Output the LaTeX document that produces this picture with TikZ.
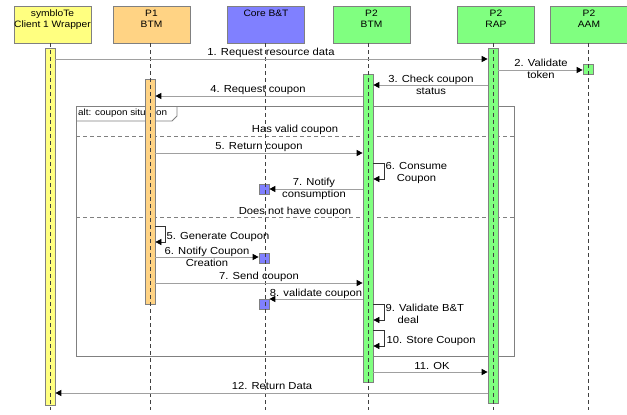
\documentclass[tikz,border=0pt]{standalone}
\usepackage{fontspec}
\setmainfont[FakeStretch=1.1]{Liberation Sans}
\usetikzlibrary{arrows.meta}

\definecolor{frameGray}{HTML}{808080}
\definecolor{lineGray}{HTML}{A0A0A0}
\definecolor{cYellow}{HTML}{FFFF80}
\definecolor{cOrange}{HTML}{FFD384}
\definecolor{cBlue}{HTML}{8080FF}
\definecolor{cGreen}{HTML}{80FF80}

\tikzset{
  head/.style={draw=frameGray, line width=0.8pt, minimum width=77pt, minimum height=37pt,
    inner sep=0pt},
  headtxt/.style={anchor=north, align=center, inner sep=0pt,
    font=\fontsize{9.3}{11.5}\selectfont},
  life/.style={draw=black!75, line width=0.6pt, dash pattern=on 4pt off 3pt},
  bar/.style={draw=frameGray, line width=0.7pt, minimum width=10pt, inner sep=0pt, anchor=north},
  msg/.style={draw=lineGray, line width=1pt,
    -{Triangle[length=6pt,width=6pt,color=black]}},
  selfmsg/.style={draw=black!80, line width=0.6pt,
    -{Triangle[length=6pt,width=6pt,color=black]}},
  lbl/.style={inner sep=0.5pt, align=center, font=\fontsize{10.2}{12}\selectfont},
  frame/.style={draw=frameGray, line width=0.8pt},
  sep/.style={draw=frameGray, line width=0.7pt, dash pattern=on 4pt off 3pt},
}

\begin{document}
\begin{tikzpicture}[x=1pt,y=-1pt]
\useasboundingbox (0,0) rectangle (627,415);
\fill[white] (0,0) rectangle (627,415);

% participant heads
\node[head, fill=cYellow] (hSym) at (52.5,24.5) {};
\node[head, fill=cOrange] (hP1)  at (151.5,24.5) {};
\node[head, fill=cBlue]   (hCore) at (266,24.5) {};
\node[head, fill=cGreen]  (hBtm) at (371.5,24.5) {};
\node[head, fill=cGreen]  (hRap) at (496,24.5) {};
\node[head, fill=cGreen]  (hAam) at (589,24.5) {};
\node[headtxt] at (52.5,9.5)  {symbloTe\\Client 1 Wrapper};
\node[headtxt] at (151.5,9.5) {P1\\BTM};
\node[headtxt] at (266,9.5)   {Core B\&T};
\node[headtxt] at (371.5,9.5) {P2\\BTM};
\node[headtxt] at (496,9.5)   {P2\\RAP};
\node[headtxt] at (589,9.5)   {P2\\AAM};

% lifeline ends
\coordinate (lSym)  at (50,43);   \coordinate (eSym)  at (50,410);
\coordinate (lP1)   at (150,43);  \coordinate (eP1)   at (150,410);
\coordinate (lCore) at (265,43);  \coordinate (eCore) at (265,410);
\coordinate (lBtm)  at (368,43);  \coordinate (eBtm)  at (368,410);
\coordinate (lRap)  at (493,43);  \coordinate (eRap)  at (493,410);
\coordinate (lAam)  at (588,43);  \coordinate (eAam)  at (588,410);

% combined fragment
\draw[frame] (76,106) rectangle (514,356);
\draw[frame] (76,121) -- (172,121) -- (177,116) -- (177,106);
\node[anchor=west, inner sep=0pt, font=\fontsize{9}{10}\selectfont] (altlbl) at (78,113.5) {alt: coupon situation};
\draw[sep] (76,136) -- (514,136);
\draw[sep] (76,217) -- (514,217);
\node[lbl, anchor=base] at (295,132) {Has valid coupon};
\node[lbl, anchor=base] at (295,214) {Does not have coupon};

% activation bars
\node[bar, fill=cYellow, minimum height=357pt] (aSym) at (50,48) {};
\node[bar, fill=cOrange, minimum height=225pt] (aP1)  at (150,79) {};
\node[bar, fill=cGreen,  minimum height=308pt] (aBtm) at (368,74) {};
\node[bar, fill=cGreen,  minimum height=355pt] (aRap) at (493,48) {};
\node[bar, fill=cGreen,  minimum height=10pt]  (aAam) at (588,64) {};
\node[bar, fill=cBlue,   minimum height=10pt]  (aCore1) at (264,184) {};
\node[bar, fill=cBlue,   minimum height=10pt]  (aCore2) at (264,253) {};
\node[bar, fill=cBlue,   minimum height=10pt]  (aCore3) at (264,299) {};

% lifelines
\foreach \a/\b in {lSym/eSym,lP1/eP1,lCore/eCore,lBtm/eBtm,lRap/eRap,lAam/eAam}
  \draw[life] (\a) -- (\b);

% messages
\draw[msg] (aSym.east |- 0,59) -- (aRap.west |- 0,59);
\node[lbl, anchor=base] at (271,55) {1. Request resource data};

\draw[msg] (aRap.east |- 0,70) -- (aAam.west |- 0,70);
\node[lbl] at (541,69) {2. Validate\\token};

\draw[msg] (aRap.west |- 0,85) -- (aBtm.east |- 0,85);
\node[lbl] at (431,85) {3. Check coupon\\status};

\draw[msg] (aBtm.west |- 0,96) -- (aP1.east |- 0,96);
\node[lbl, anchor=base] at (258,92) {4. Request coupon};

% alternative: has valid coupon
\draw[msg] (aP1.east |- 0,153) -- (aBtm.west |- 0,153);
\node[lbl, anchor=base] at (259,149.5) {5. Return coupon};

\draw[selfmsg] (aBtm.east |- 0,163) -- (384,163) -- (384,179) -- (aBtm.east |- 0,179);
\node[lbl, anchor=west] at (385,173) {6. Consume\\Coupon};

\draw[msg] (aBtm.west |- 0,189) -- (aCore1.east |- 0,189);
\node[lbl] at (314,189) {7. Notify\\consumption};

% alternative: does not have coupon
\draw[selfmsg] (aP1.east |- 0,226) -- (165,226) -- (165,242) -- (aP1.east |- 0,242);
\node[lbl, anchor=base west] at (166,239) {5. Generate Coupon};

\draw[msg] (aP1.east |- 0,257) -- (aCore2.west |- 0,257);
\node[lbl] at (207,257) {6. Notify Coupon\\Creation};

\draw[msg] (aP1.east |- 0,283) -- (aBtm.west |- 0,283);
\node[lbl, anchor=base] at (259,279.5) {7. Send coupon};

\draw[msg] (aBtm.west |- 0,299) -- (aCore3.east |- 0,299);
\node[lbl, anchor=base] at (316,296) {8. validate coupon};

\draw[selfmsg] (aBtm.east |- 0,304) -- (384,304) -- (384,320) -- (aBtm.east |- 0,320);
\node[lbl, anchor=west, align=left] at (385,314) {9. Validate B\&T\\\hspace*{12pt}deal};

\draw[selfmsg] (aBtm.east |- 0,330) -- (384,330) -- (384,346) -- (aBtm.east |- 0,346);
\node[lbl, anchor=base west] at (386,343.5) {10. Store Coupon};

% after the fragment
\draw[msg] (aBtm.east |- 0,372) -- (aRap.west |- 0,372);
\node[lbl, anchor=base] at (432,369) {11. OK};

\draw[msg] (aRap.west |- 0,393) -- (aSym.east |- 0,393);
\node[lbl, anchor=base] at (272,389.5) {12. Return Data};
\end{tikzpicture}
\end{document}
